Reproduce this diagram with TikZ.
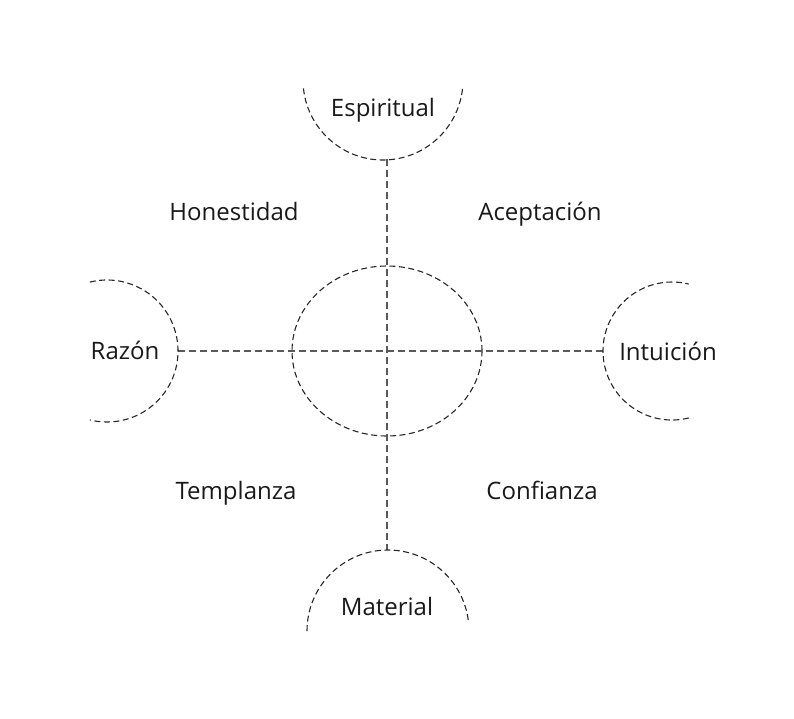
\documentclass[tikz,border=0pt]{standalone}
\usepackage{fontspec}
\setmainfont{Open Sans}
\usetikzlibrary{shapes.geometric}
\begin{document}
\begin{tikzpicture}[x=1pt,y=-1pt,
  lbl/.style={font=\fontsize{24}{28}\selectfont, text=black!90, inner sep=0pt, anchor=base},
  axis/.style={draw=black!65, line width=1.1pt, dash pattern=on 7pt off 4pt},
  ring/.style={draw=black!85, line width=1.1pt, dash pattern=on 6pt off 3.5pt}]
\useasboundingbox (0,0) rectangle (794,718);
% central ellipse
\node[ring, ellipse, minimum width=190pt, minimum height=170pt, inner sep=0pt] (c) at (387,351) {};
\coordinate (top) at (387,159);
\coordinate (bot) at (387,550);
\coordinate (lft) at (178,351);
\coordinate (rgt) at (603,351);
\draw[axis] (top) -- (bot);
\draw[axis] (lft) -- (rgt);
% arcs
\draw[ring] (383,80) ++(174:80) arc[start angle=174, end angle=6, radius=80];
\draw[ring] (388,631) ++(180:81) arc[start angle=180, end angle=354, radius=81];
\draw[ring] (107,351) ++(-104:71) arc[start angle=-104, end angle=104, radius=71];
\draw[ring] (672,351) ++(76:69) arc[start angle=76, end angle=284, radius=69];
% labels
\node[lbl] (esp) at (383,116) {Espiritual};
\node[lbl] (hon) at (234,220) {Honestidad};
\node[lbl] (ace) at (540,220) {Aceptación};
\node[lbl] (raz) at (125,359) {Razón};
\node[lbl] (int) at (668,360) {Intuición};
\node[lbl] (tem) at (236,499) {Templanza};
\node[lbl] (con) at (542,499) {Confianza};
\node[lbl] (mat) at (387,615) {Material};
\end{tikzpicture}
\end{document}
